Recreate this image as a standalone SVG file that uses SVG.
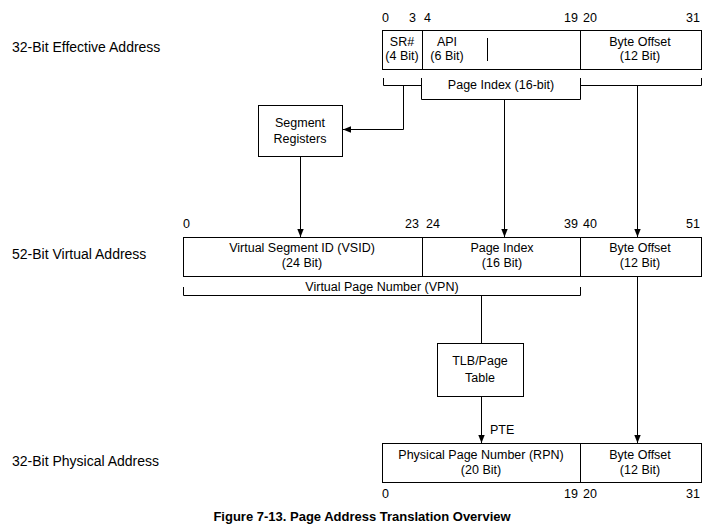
<svg xmlns="http://www.w3.org/2000/svg" width="719" height="531" viewBox="0 0 719 531">
<style>
text{font-family:"Liberation Sans",Arial,sans-serif;font-size:12.5px;fill:#000}
.lbl{font-size:14px}
.c{text-anchor:middle}
.r{text-anchor:end}
rect{fill:#fff;stroke:#000;stroke-width:1}
line,polyline{stroke:#000;stroke-width:1;fill:none}
</style>
<defs><marker id="a" viewBox="0 0 10 10" refX="10" refY="5" markerWidth="8" markerHeight="8" orient="auto" markerUnits="userSpaceOnUse"><path d="M0,1 L10,5 L0,9 z" fill="#000"/></marker></defs>
<rect x="0" y="0" width="719" height="531" style="stroke:none"/>
<g id="labels">
<text class="lbl" x="12" y="52">32-Bit Effective Address</text>
<text class="lbl" x="12" y="259">52-Bit Virtual Address</text>
<text class="lbl" x="12" y="466">32-Bit Physical Address</text>
<text x="362" y="521" class="c" style="font-weight:bold;font-size:13px">Figure 7-13. Page Address Translation Overview</text>
</g>
<g id="ea">
<rect x="382.5" y="30.5" width="319" height="39"/>
<line x1="422.5" y1="30" x2="422.5" y2="70"/><line x1="580.5" y1="30" x2="580.5" y2="70"/><line x1="487.5" y1="38" x2="487.5" y2="61"/>
<text x="402" y="46" class="c">SR#</text><text x="402" y="60" class="c">(4 Bit)</text>
<text x="447" y="46" class="c">API</text><text x="447" y="60" class="c">(6 Bit)</text>
<text x="640" y="46" class="c">Byte Offset</text><text x="640" y="60" class="c">(12 Bit)</text>
<text x="382" y="22">0</text><text x="409" y="22">3</text><text x="424" y="22">4</text><text x="578" y="22" class="r">19</text><text x="583" y="22">20</text><text x="700" y="22" class="r">31</text>
<text x="501" y="89" class="c">Page Index (16-bit)</text>
</g>
<g id="seg"><rect x="258.5" y="105.5" width="84" height="51"/><text x="300" y="127" class="c">Segment</text><text x="300" y="143" class="c">Registers</text></g>
<g id="va">
<rect x="183.5" y="237.5" width="518" height="39"/>
<line x1="422.5" y1="237" x2="422.5" y2="277"/><line x1="580.5" y1="237" x2="580.5" y2="277"/>
<text x="302" y="252" class="c">Virtual Segment ID (VSID)</text><text x="302" y="267" class="c">(24 Bit)</text>
<text x="502" y="252" class="c">Page Index</text><text x="502" y="267" class="c">(16 Bit)</text>
<text x="640" y="252" class="c">Byte Offset</text><text x="640" y="267" class="c">(12 Bit)</text>
<text x="183" y="228">0</text><text x="419" y="228" class="r">23</text><text x="426" y="228">24</text><text x="578" y="228" class="r">39</text><text x="583" y="228">40</text><text x="700" y="228" class="r">51</text>
<text x="382" y="291" class="c">Virtual Page Number (VPN)</text>
</g>
<g id="tlb"><rect x="437.5" y="343.5" width="86" height="53"/><text x="480" y="365" class="c">TLB/Page</text><text x="480" y="382" class="c">Table</text></g>
<g id="pa">
<rect x="382.5" y="443.5" width="319" height="39"/>
<line x1="580.5" y1="443" x2="580.5" y2="483"/>
<text x="481" y="459" class="c">Physical Page Number (RPN)</text><text x="481" y="474" class="c">(20 Bit)</text>
<text x="640" y="459" class="c">Byte Offset</text><text x="640" y="474" class="c">(12 Bit)</text>
<text x="382" y="498">0</text><text x="578" y="498" class="r">19</text><text x="583" y="498">20</text><text x="700" y="498" class="r">31</text>
</g>
<g id="connectors">
<polyline points="383.5,78 383.5,85.5 421.5,85.5 421.5,78"/>
<polyline points="421.5,80 421.5,99.5 580.5,99.5 580.5,80"/>
<polyline points="580.5,78 580.5,85.5 701.5,85.5 701.5,78"/>
<polyline points="183.5,287 183.5,295.5 580.5,295.5 580.5,287"/>
<polyline points="403.5,86 403.5,129.5 343,129.5" marker-end="url(#a)"/>
<line x1="504.5" y1="100" x2="504.5" y2="237" marker-end="url(#a)"/>
<line x1="637.5" y1="86" x2="637.5" y2="237" marker-end="url(#a)"/>
<line x1="300.5" y1="157" x2="300.5" y2="237" marker-end="url(#a)"/>
<line x1="481.5" y1="296" x2="481.5" y2="343"/>
<line x1="481.5" y1="397" x2="481.5" y2="443" marker-end="url(#a)"/>
<line x1="637.5" y1="277" x2="637.5" y2="443" marker-end="url(#a)"/>
<text x="490" y="434">PTE</text>
</g>
</svg>
